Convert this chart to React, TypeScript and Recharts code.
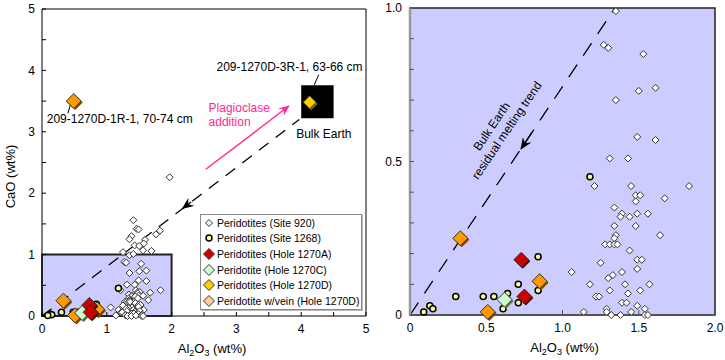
import React from 'react';
import {
  ScatterChart,
  Scatter,
  XAxis,
  YAxis,
  ReferenceArea,
  ReferenceLine,
  ReferenceDot,
  Legend,
} from 'recharts';

const FONT = '"Liberation Sans", Arial, Helvetica, sans-serif';

// [Al2O3, CaO] in wt%
const site920: [number, number][] = [
  [1.35, 0.99], [1.27, 0.88], [1.3, 0.87], [1.53, 0.85], [1.5, 0.73], [1.61, 0.74],
  [1.35, 0.7], [1.49, 0.58], [1.61, 0.57], [1.31, 0.51], [1.43, 0.51], [1.21, 0.42],
  [1.45, 0.42], [1.83, 0.42], [1.48, 0.39], [1.51, 0.39], [1.67, 0.38], [1.48, 0.37],
  [1.34, 0.35], [1.39, 0.33], [1.49, 0.33], [1.56, 0.33], [1.38, 0.32], [1.44, 0.32],
  [1.34, 0.29], [1.48, 0.29], [1.35, 0.26], [1.34, 0.25], [1.64, 0.26], [1.28, 0.23],
  [1.31, 0.23], [1.34, 0.23], [1.36, 0.23], [1.44, 0.21], [1.25, 0.17], [1.49, 0.18],
  [1.52, 0.18], [1.49, 0.15], [1.06, 0.14], [1.39, 0.14], [1.33, 0.13], [1.3, 0.12],
  [1.41, 0.1], [1.18, 0.1], [1.57, 0.1], [1.31, 0.08], [1.43, 0.07], [1.51, 0.08],
  [1.22, 0.06], [1.24, 0.06], [1.39, 0.04], [1.42, 0.04], [1.49, 0.03], [1.14, 0.01],
  [1.29, 0.02], [1.29, 0.01], [1.32, 0.0], [1.38, 0.0], [1.45, 0.01], [1.54, 0.02],
  [1.54, 0.0], [1.56, 0.0],
  [1.97, 2.26], [1.41, 1.56], [1.46, 1.42], [1.49, 1.41], [1.38, 1.3], [1.35, 1.25],
  [1.59, 1.24], [1.57, 1.18], [1.76, 1.33], [1.82, 1.39], [1.43, 1.15], [1.5, 1.14],
  [1.56, 1.07], [1.69, 1.06], [1.25, 1.04], [1.41, 1.01],
];
const site1268: [number, number][] = [
  [1.18, 0.45], [0.84, 0.19], [0.71, 0.1], [0.84, 0.08], [0.3, 0.06], [0.48, 0.06],
  [0.55, 0.06], [0.64, 0.07], [0.71, 0.04], [0.13, 0.03], [0.15, 0.02], [0.09, 0.01],
  [0.61, 0.02],
];
const hole1270A: [number, number][] = [[0.73, 0.18], [0.75, 0.06]];
const hole1270C: [number, number][] = [[0.62, 0.05]];
const hole1270D: [number, number][] = [[0.33, 0.25], [0.85, 0.11], [0.51, 0.01]];
const vein1270D: [number, number][] = [[0.49, 3.5]];
const bulkEarth: [number, number][] = [[4.13, 3.48]];

const leftTicks = [0, 0.5, 1, 1.5, 2, 2.5, 3, 3.5, 4, 4.5, 5];
const rightYTicks = [0, 0.1, 0.2, 0.3, 0.4, 0.5, 0.6, 0.7, 0.8, 0.9, 1.0];
const rightXTicks = [0, 0.5, 1, 1.5, 2];

const legendLabels = [
  'Peridotites (Site 920)',
  'Peridotites (Site 1268)',
  'Peridotites (Hole 1270A)',
  'Peridotite (Hole 1270C)',
  'Peridotites (Hole 1270D)',
  'Peridotite w/vein (Hole 1270D)',
];

const toPts = (arr: [number, number][]) => arr.map(([x, y]) => ({ x, y }));
const inRight = (arr: [number, number][]) => toPts(arr.filter(([x, y]) => x <= 2 && y <= 1));

const Diamond = ({ cx, cy, half, fill, stroke, shadow }: any) => {
  if (cx == null || cy == null) return null;
  const pts = (d: number) =>
    `${cx + d},${cy - half + d} ${cx + half + d},${cy + d} ${cx + d},${cy + half + d} ${cx - half + d},${cy + d}`;
  return (
    <g>
      {shadow && <polygon points={pts(1.5)} fill={shadow} />}
      <polygon points={pts(0)} fill={fill} stroke={stroke} strokeWidth={1} />
    </g>
  );
};

const smallDiamond = (p: any) => <Diamond cx={p.cx} cy={p.cy} half={3.5} fill="#fff" stroke="#333" />;
const yellowDot = (p: any) => (
  <circle cx={p.cx} cy={p.cy} r={3} fill="#FFFF99" stroke="#000" strokeWidth={1.5} />
);
const redDiamond = (p: any) => <Diamond cx={p.cx} cy={p.cy} half={7.5} fill="#CC0000" stroke="#333" shadow="#550000" />;
const greenDiamond = (p: any) => <Diamond cx={p.cx} cy={p.cy} half={7.5} fill="#CCFFCC" stroke="#333" shadow="#557755" />;
const orangeDiamond = (p: any) => <Diamond cx={p.cx} cy={p.cy} half={7.5} fill="#FF9900" stroke="#333" shadow="#7a4a00" />;
const goldDiamond = (p: any) => <Diamond cx={p.cx} cy={p.cy} half={6.5} fill="#FFCC00" stroke="#333" shadow="#8a7000" />;

const textShape = (text: string, opts: any = {}) => (p: any) => (
  <text
    x={p.cx}
    y={p.cy}
    fontSize={opts.size || 12}
    fontFamily={FONT}
    fill={opts.fill || '#000'}
    textAnchor={opts.anchor || 'middle'}
    transform={opts.rotate ? `rotate(${opts.rotate} ${p.cx} ${p.cy})` : undefined}
  >
    {text}
  </text>
);

const AlLabel = ({ viewBox, dx = 0 }: any) => (
  <text x={viewBox.x + viewBox.width / 2 + dx} y={viewBox.y + 37} textAnchor="middle" fontSize={13} fontFamily={FONT}>
    Al<tspan fontSize={9} dy={3}>2</tspan>
    <tspan dy={-3}>O</tspan>
    <tspan fontSize={9} dy={3}>3</tspan>
    <tspan dy={-3}> (wt%)</tspan>
  </text>
);

const CaLabel = ({ viewBox }: any) => {
  const x = 14.5;
  const y = viewBox.y + viewBox.height / 2 + 14;
  return (
    <text x={x} y={y} transform={`rotate(-90 ${x} ${y})`} textAnchor="middle" fontSize={13} fontFamily={FONT}>
      CaO (wt%)
    </text>
  );
};

const legendMarkers = [
  <polygon key="a" points="6,2.5 9.5,6 6,9.5 2.5,6" fill="#fff" stroke="#333" />,
  <circle key="b" cx={6} cy={6} r={3} fill="#FFFF99" stroke="#000" strokeWidth={1.5} />,
  <polygon key="c" points="6,0.5 11.5,6 6,11.5 0.5,6" fill="#CC0000" stroke="#333" />,
  <polygon key="d" points="6,0.5 11.5,6 6,11.5 0.5,6" fill="#CCFFCC" stroke="#333" />,
  <polygon key="e" points="6,0.5 11.5,6 6,11.5 0.5,6" fill="#FFCC00" stroke="#333" />,
  <polygon key="f" points="6,0.5 11.5,6 6,11.5 0.5,6" fill="#FFCC99" stroke="#333" />,
];

const renderLegend = () => (
  <div
    style={{
      boxSizing: 'border-box',
      width: 162,
      height: 96,
      background: '#fff',
      border: '1px solid #888',
      boxShadow: '1px 1px 0 #bbb',
      padding: '0 0 0 2px',
      fontFamily: FONT,
      fontSize: 10.5,
      color: '#000',
    }}
  >
    {legendLabels.map((label, i) => (
      <div key={label} style={{ display: 'flex', alignItems: 'center', height: 15.6, whiteSpace: 'nowrap' }}>
        <svg width={12} height={12} style={{ marginRight: 2, flexShrink: 0 }}>
          {legendMarkers[i]}
        </svg>
        {label}
      </div>
    ))}
  </div>
);

const tickStyle = { fill: '#000', fontSize: 12, fontFamily: FONT };
const intOnly = (v: number) => (Number.isInteger(v) ? String(v) : '');

const LeftChart = () => (
  <ScatterChart width={370} height={360} margin={{ top: 9, right: 4, bottom: 43, left: 41 }}>
    <ReferenceArea x1={0} x2={5} y1={0} y2={5} fill="#fff" fillOpacity={0} stroke="#000" strokeWidth={1} />
    <ReferenceArea x1={0} x2={2} y1={0} y2={1} fill="#CCCCFF" fillOpacity={1} stroke="#222" strokeWidth={2} />
    <ReferenceArea x1={4.0} x2={4.5} y1={3.22} y2={3.76} fill="#000" fillOpacity={1} />
    <XAxis
      type="number"
      dataKey="x"
      domain={[0, 5]}
      ticks={leftTicks}
      interval={0}
      tickFormatter={intOnly}
      height={1}
      tickSize={-4}
      tickMargin={12}
      axisLine={false}
      tickLine={{ stroke: '#000' }}
      tick={tickStyle}
      label={(p: any) => <AlLabel {...p} dx={8} />}
    />
    <YAxis
      type="number"
      dataKey="y"
      domain={[0, 5]}
      ticks={leftTicks}
      interval={0}
      tickFormatter={intOnly}
      width={1}
      tickSize={-4}
      tickMargin={11}
      axisLine={false}
      tickLine={{ stroke: '#000' }}
      tick={tickStyle}
      label={(p: any) => <CaLabel {...p} />}
    />
    <ReferenceLine
      segment={[{ x: 0, y: 0 }, { x: 3.97, y: 3.2 }]}
      stroke="#000"
      strokeWidth={1.3}
      strokeDasharray="12 9"
      ifOverflow="visible"
    />
    <ReferenceLine
      segment={[{ x: 2.3, y: 1.856 }, { x: 2.17, y: 1.751 }]}
      stroke="#000"
      strokeWidth={1.3}
      markerEnd="url(#arrowBlack)"
      ifOverflow="visible"
    />
    <ReferenceLine
      segment={[{ x: 2.53, y: 2.39 }, { x: 3.81, y: 3.42 }]}
      stroke="#FF2A8E"
      strokeWidth={1.5}
      markerEnd="url(#arrowPink)"
      ifOverflow="visible"
    />
    <ReferenceLine segment={[{ x: 4.27, y: 3.93 }, { x: 4.2, y: 3.76 }]} stroke="#000" ifOverflow="visible" />
    <ReferenceLine segment={[{ x: 0.47, y: 3.56 }, { x: 0.4, y: 3.3 }]} stroke="#000" ifOverflow="visible" />
    <Scatter data={toPts(site920)} isAnimationActive={false} shape={smallDiamond} />
    <Scatter data={toPts(site1268)} isAnimationActive={false} shape={yellowDot} />
    <Scatter data={toPts(hole1270D)} isAnimationActive={false} shape={orangeDiamond} />
    <Scatter data={toPts(hole1270C)} isAnimationActive={false} shape={greenDiamond} />
    <Scatter data={toPts(hole1270A)} isAnimationActive={false} shape={redDiamond} />
    <Scatter data={toPts(vein1270D)} isAnimationActive={false} shape={orangeDiamond} />
    <Scatter data={toPts(bulkEarth)} isAnimationActive={false} shape={goldDiamond} />
    <ReferenceDot x={3.82} y={3.99} r={0} ifOverflow="visible" shape={textShape('209-1270D-3R-1, 63-66 cm')} />
    <ReferenceDot x={1.2} y={3.14} r={0} ifOverflow="visible" shape={textShape('209-1270D-1R-1, 70-74 cm')} />
    <ReferenceDot x={4.35} y={2.9} r={0} ifOverflow="visible" shape={textShape('Bulk Earth')} />
    <ReferenceDot x={2.57} y={3.33} r={0} ifOverflow="visible" shape={textShape('Plagioclase', { anchor: 'start', fill: '#FF2A8E' })} />
    <ReferenceDot x={2.57} y={3.1} r={0} ifOverflow="visible" shape={textShape('addition', { anchor: 'start', fill: '#FF2A8E' })} />
    <Legend
      layout="vertical"
      align="center"
      verticalAlign="middle"
      content={renderLegend}
      wrapperStyle={{ left: 200, top: 214, width: 162, height: 96 }}
    />
  </ScatterChart>
);

const RightChart = () => (
  <ScatterChart width={355} height={360} margin={{ top: 8, right: 10, bottom: 44, left: 39 }}>
    <ReferenceArea x1={0} x2={2} y1={0} y2={1} fill="#CCCCFF" fillOpacity={1} stroke="#222" strokeWidth={1.5} />
    <XAxis
      type="number"
      dataKey="x"
      domain={[0, 2]}
      ticks={rightXTicks}
      interval={0}
      tickFormatter={(v: number) => (v === 0 ? '0' : v.toFixed(1))}
      height={1}
      tickSize={-5}
      tickMargin={13}
      axisLine={{ stroke: '#555', strokeWidth: 1.5 }}
      tickLine={{ stroke: '#555' }}
      tick={tickStyle}
      label={(p: any) => <AlLabel {...p} dx={2} />}
    />
    <YAxis
      type="number"
      dataKey="y"
      domain={[0, 1]}
      ticks={rightYTicks}
      interval={0}
      tickFormatter={(v: number) => (v === 0 ? '0' : v === 0.5 ? '0.5' : v === 1 ? '1.0' : '')}
      width={1}
      tickSize={-4}
      tickMargin={12}
      axisLine={{ stroke: '#999', strokeWidth: 2.5 }}
      tickLine={{ stroke: '#555' }}
      tick={tickStyle}
    />
    <ReferenceLine
      segment={[{ x: 0, y: 0 }, { x: 1.344, y: 1.0 }]}
      stroke="#000"
      strokeWidth={1.3}
      strokeDasharray="15 11"
      ifOverflow="visible"
    />
    <ReferenceLine
      segment={[{ x: 0.8, y: 0.595 }, { x: 0.728, y: 0.541 }]}
      stroke="#000"
      strokeWidth={1.3}
      markerEnd="url(#arrowBlack)"
      ifOverflow="visible"
    />
    <Scatter data={inRight(site920)} isAnimationActive={false} shape={smallDiamond} />
    <Scatter data={inRight(site1268)} isAnimationActive={false} shape={yellowDot} />
    <Scatter data={inRight(hole1270D)} isAnimationActive={false} shape={orangeDiamond} />
    <Scatter data={inRight(hole1270C)} isAnimationActive={false} shape={greenDiamond} />
    <Scatter data={inRight(hole1270A)} isAnimationActive={false} shape={redDiamond} />
    <ReferenceDot x={0.557} y={0.607} r={0} ifOverflow="visible" shape={textShape('Bulk Earth', { rotate: -56 })} />
    <ReferenceDot x={0.656} y={0.594} r={0} ifOverflow="visible" shape={textShape('residual melting trend', { rotate: -56 })} />
  </ScatterChart>
);

export default function App() {
  return (
    <div style={{ position: 'absolute', left: 0, top: 0, width: 725, height: 360, background: '#fff' }}>
      <svg width={0} height={0} style={{ position: 'absolute' }}>
        <defs>
          <marker id="arrowBlack" viewBox="0 0 12 10" refX="11" refY="5" markerWidth="12" markerHeight="10" markerUnits="userSpaceOnUse" orient="auto">
            <path d="M0,0 L12,5 L0,10 L4,5 Z" fill="#000" />
          </marker>
          <marker id="arrowPink" viewBox="0 0 12 10" refX="11" refY="5" markerWidth="11" markerHeight="9" markerUnits="userSpaceOnUse" orient="auto">
            <path d="M0,0 L12,5 L0,10 L4,5 Z" fill="#FF2A8E" />
          </marker>
        </defs>
      </svg>
      <div style={{ position: 'absolute', left: 0, top: 0 }}>
        <LeftChart />
      </div>
      <div style={{ position: 'absolute', left: 370, top: 0 }}>
        <RightChart />
      </div>
    </div>
  );
}
